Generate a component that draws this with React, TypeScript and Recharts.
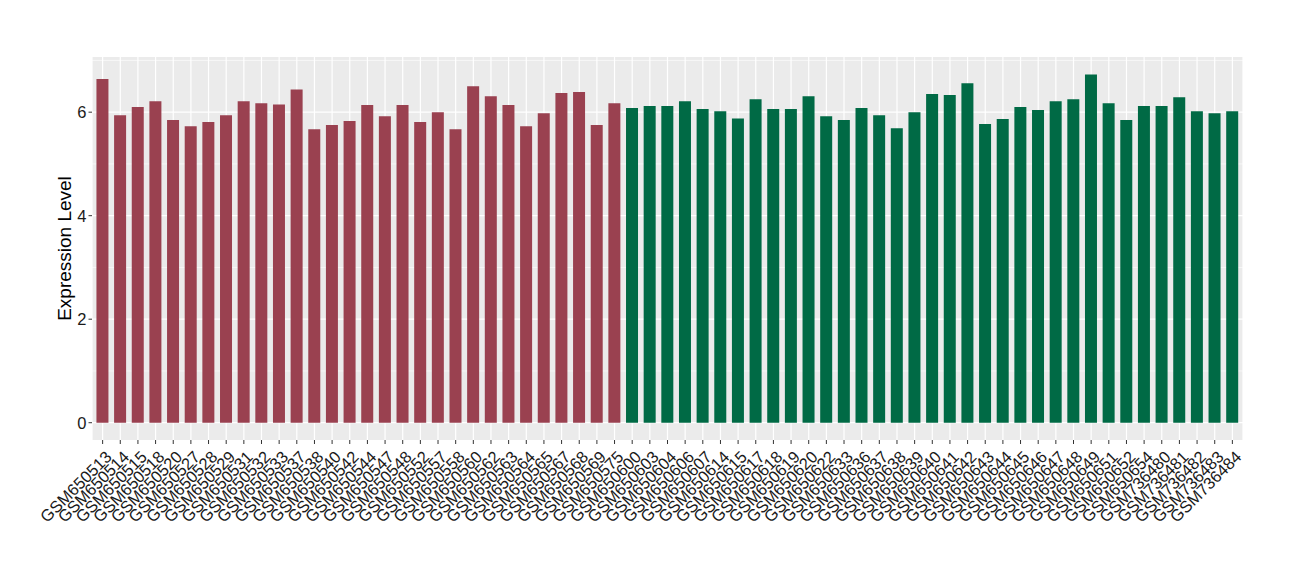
import { BarChart, Bar, XAxis, YAxis, CartesianGrid, Cell, Label } from 'recharts';

const redSamples = [
    'GSM650513', 'GSM650514', 'GSM650515', 'GSM650518', 'GSM650520', 'GSM650527', 'GSM650528', 'GSM650529',
    'GSM650531', 'GSM650532', 'GSM650533', 'GSM650537', 'GSM650538', 'GSM650540', 'GSM650542', 'GSM650544',
    'GSM650547', 'GSM650548', 'GSM650552', 'GSM650557', 'GSM650558', 'GSM650560', 'GSM650562', 'GSM650563',
    'GSM650564', 'GSM650565', 'GSM650567', 'GSM650568', 'GSM650569', 'GSM650575',
];
const redValues = [
    6.64, 5.94, 6.10, 6.21, 5.85, 5.73, 5.81, 5.94, 6.21, 6.17, 6.15, 6.44, 5.67, 5.75, 5.83, 6.14,
    5.92, 6.14, 5.81, 6.00, 5.67, 6.50, 6.31, 6.14, 5.73, 5.98, 6.37, 6.39, 5.75, 6.17,
];

const greenSamples = [
    'GSM650600', 'GSM650603', 'GSM650604', 'GSM650606', 'GSM650607', 'GSM650614', 'GSM650615', 'GSM650617',
    'GSM650618', 'GSM650619', 'GSM650620', 'GSM650622', 'GSM650633', 'GSM650636', 'GSM650637', 'GSM650638',
    'GSM650639', 'GSM650640', 'GSM650641', 'GSM650642', 'GSM650643', 'GSM650644', 'GSM650645', 'GSM650646',
    'GSM650647', 'GSM650648', 'GSM650649', 'GSM650651', 'GSM650652', 'GSM650654', 'GSM736480', 'GSM736481',
    'GSM736482', 'GSM736483', 'GSM736484',
];
const greenValues = [
    6.08, 6.12, 6.12, 6.21, 6.06, 6.02, 5.88, 6.25, 6.06, 6.06, 6.31, 5.92, 5.85, 6.08, 5.94, 5.69,
    6.00, 6.35, 6.33, 6.56, 5.77, 5.87, 6.10, 6.04, 6.21, 6.25, 6.73, 6.17, 5.85, 6.12, 6.12, 6.29,
    6.02, 5.98, 6.02,
];

const yTicks = [0, 2, 4, 6];
const yMinor = [1, 3, 5, 7];

const RED = '#9A4150';
const GREEN = '#006A45';

const data = [
    ...redSamples.map((s, i) => ({ sample: s, value: redValues[i], color: RED })),
    ...greenSamples.map((s, i) => ({ sample: s, value: greenValues[i], color: GREEN })),
];

const FONT = '"Liberation Sans", Arial, sans-serif';

// ggplot-style label: top-right corner of the rotated text sits under the tick
function XTick({ x, y, payload }: any) {
    return (
        <text
            transform={`translate(${x + 10},${y + 12}) rotate(-45)`}
            textAnchor="end"
            fontSize={16.5}
            fontFamily={FONT}
            fill="#1a1a1a"
        >
            {payload.value}
        </text>
    );
}

export default function App() {
    return (
        <div style={{ position: 'absolute', left: 0, top: 0, width: 1300, height: 580, background: '#fff' }}>
            <BarChart
                width={1300}
                height={580}
                data={data}
                margin={{ top: 57, right: 57, bottom: 0, left: 0 }}
                barCategoryGap="15%"
            >
                <CartesianGrid
                    fill="#EBEBEB"
                    stroke="#FFFFFF"
                    strokeWidth={0.6}
                    vertical={false}
                    horizontalValues={yMinor}
                />
                <CartesianGrid
                    stroke="#FFFFFF"
                    strokeWidth={1.2}
                    horizontalValues={yTicks}
                />
                <XAxis
                    dataKey="sample"
                    interval={0}
                    height={140}
                    padding={{ left: 1.8, right: 1.8 }}
                    tick={<XTick />}
                    tickSize={4}
                    tickMargin={2}
                    axisLine={false}
                    tickLine={{ stroke: '#333333' }}
                />
                <YAxis
                    width={92}
                    domain={[-0.334, 7.066]}
                    ticks={yTicks}
                    tickSize={3.5}
                    tickMargin={2}
                    axisLine={false}
                    tickLine={{ stroke: '#333333' }}
                    tick={{ fontSize: 16.5, fill: '#1a1a1a', fontFamily: FONT }}
                >
                    <Label
                        content={({ viewBox }: any) => {
                            const cx = viewBox.x + 71;
                            const cy = viewBox.y + viewBox.height / 2;
                            return (
                                <text
                                    x={cx}
                                    y={cy}
                                    transform={`rotate(-90, ${cx}, ${cy})`}
                                    textAnchor="middle"
                                    fontSize={19}
                                    fontFamily={FONT}
                                    fill="#000"
                                >
                                    Expression Level
                                </text>
                            );
                        }}
                    />
                </YAxis>
                <Bar dataKey="value" isAnimationActive={false}>
                    {data.map((d, i) => (
                        <Cell key={`c-${i}`} fill={d.color} />
                    ))}
                </Bar>
            </BarChart>
        </div>
    );
}
